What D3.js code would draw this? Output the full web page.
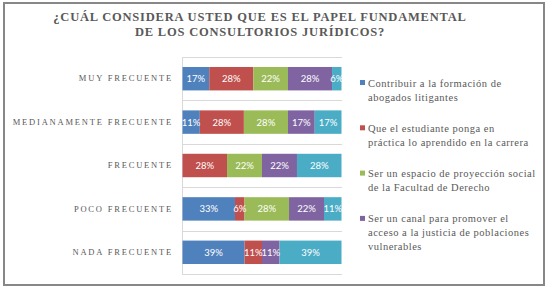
<!DOCTYPE html>
<html>
<head>
<meta charset="utf-8">
<script src="https://cdn.jsdelivr.net/npm/d3@7"></script>
<style>
  html, body { margin: 0; padding: 0; background: #fff; }
  svg { display: block; }
</style>
</head>
<body>
<div id="chart"></div>
<script>
// data
const categories = ['MUY FRECUENTE', 'MEDIANAMENTE FRECUENTE', 'FRECUENTE', 'POCO FRECUENTE', 'NADA FRECUENTE'];
const seriesKeys = ['s1', 's2', 's3', 's4', 's5'];
const s1 = [17, 11, 0, 33, 39];
const s2 = [28, 28, 28, 6, 11];
const s3 = [22, 28, 22, 28, 0];
const s4 = [28, 17, 22, 22, 11];
const s5 = [6, 17, 28, 11, 39];
const legendNames = [
  ['Contribuir a la formación de', 'abogados litigantes'],
  ['Que el estudiante ponga en', 'práctica lo aprendido en la carrera'],
  ['Ser un espacio de proyección social', 'de la Facultad de Derecho'],
  ['Ser un canal para promover el', 'acceso a la justicia de poblaciones', 'vulnerables']
];
const titleLines = ['¿CUÁL CONSIDERA USTED QUE ES EL PAPEL FUNDAMENTAL', 'DE LOS CONSULTORIOS JURÍDICOS?'];
const colors = ['#4F81BD', '#C0504D', '#9BBB59', '#8064A2', '#4BACC6'];

const rows = categories.map((c, i) => ({
  cat: c, s1: s1[i], s2: s2[i], s3: s3[i], s4: s4[i], s5: s5[i]
}));

const W = 551, H = 291;
const plot = {l: 182, r: 341, t: 57, b: 274};

const svg = d3.select('#chart').append('svg')
  .attr('width', W)
  .attr('height', H);

// frame
svg.append('rect')
  .attr('x', 4).attr('y', 3)
  .attr('width', 540).attr('height', 282)
  .attr('fill', '#fff')
  .attr('stroke', '#878787')
  .attr('stroke-width', 2);

// title
svg.append('g').selectAll('text')
  .data(titleLines)
  .join('text')
  .attr('x', 260)
  .attr('y', (d, i) => 21 + i * 15)
  .attr('text-anchor', 'middle')
  .attr('font-family', 'Liberation Serif, serif')
  .attr('font-weight', 'bold')
  .attr('font-size', 12.5)
  .attr('letter-spacing', 0.8)
  .attr('fill', '#595959')
  .text(d => d);

const scaleX = d3.scaleLinear().domain([0, 1]).range([plot.l, plot.r]);
const scaleY = d3.scaleBand().domain(categories).range([plot.t, plot.b]).paddingInner(0.46).paddingOuter(0.23);

// horizontal gridlines between categories
const gridY = d3.range(categories.length + 1).map(i => plot.t + i * (plot.b - plot.t) / categories.length);
svg.append('g').selectAll('line')
  .data(gridY)
  .join('line')
  .attr('x1', plot.l).attr('x2', plot.r + 1)
  .attr('y1', d => Math.round(d) + 0.5).attr('y2', d => Math.round(d) + 0.5)
  .attr('stroke', '#d9d9d9')
  .attr('stroke-width', 1);

svg.append('line')
  .attr('x1', plot.l + 0.5).attr('x2', plot.l + 0.5)
  .attr('y1', plot.t).attr('y2', plot.b + 1)
  .attr('stroke', '#d9d9d9');

const stack = d3.stack().keys(seriesKeys).offset(d3.stackOffsetExpand);
const stacked = stack(rows);

const layers = svg.append('g').selectAll('g')
  .data(stacked)
  .join('g')
  .attr('fill', (d, i) => colors[i]);

layers.selectAll('rect')
  .data(d => d.map(p => Object.assign(p, {key: d.key})))
  .join('rect')
  .attr('x', d => scaleX(d[0]) + 0.5)
  .attr('y', d => scaleY(d.data.cat))
  .attr('width', d => Math.max(0, scaleX(d[1]) - scaleX(d[0])))
  .attr('height', scaleY.bandwidth());

// value labels
const labels = svg.append('g');
stacked.forEach(layer => {
  layer.forEach(p => {
    const v = p.data[layer.key];
    if (!v) return;
    labels.append('text')
      .attr('x', (scaleX(p[0]) + scaleX(p[1])) / 2 + 0.5)
      .attr('y', scaleY(p.data.cat) + scaleY.bandwidth() / 2 + 3.5)
      .attr('text-anchor', 'middle')
      .attr('font-family', 'Lato, sans-serif')
      .attr('font-size', 9.5)
      .attr('fill', '#fff')
      .text(v + '%');
  });
});

// category axis
const axisY = d3.axisLeft(scaleY).tickSize(0).tickPadding(9);
const axisYNode = svg.append('g')
  .attr('transform', `translate(${plot.l},0)`)
  .call(axisY);
axisYNode.select('.domain').remove();
axisYNode.selectAll('text')
  .attr('font-family', 'Liberation Serif, serif')
  .attr('font-size', 8.5)
  .attr('letter-spacing', 1.8)
  .attr('fill', '#595959');

// legend
const legend = svg.append('g');
legendNames.forEach((lines, i) => {
  const y0 = 83 + i * 45.3;
  legend.append('rect')
    .attr('x', 360).attr('y', y0 - 3)
    .attr('width', 5).attr('height', 5)
    .attr('fill', colors[i]);
  legend.append('g').selectAll('text')
    .data(lines)
    .join('text')
    .attr('x', 368)
    .attr('y', (d, j) => y0 + 3.5 + j * 14)
    .attr('font-family', 'Liberation Serif, serif')
    .attr('font-size', 10.5)
    .attr('letter-spacing', 0.5)
    .attr('fill', '#595959')
    .text(d => d);
});
</script>
</body>
</html>
